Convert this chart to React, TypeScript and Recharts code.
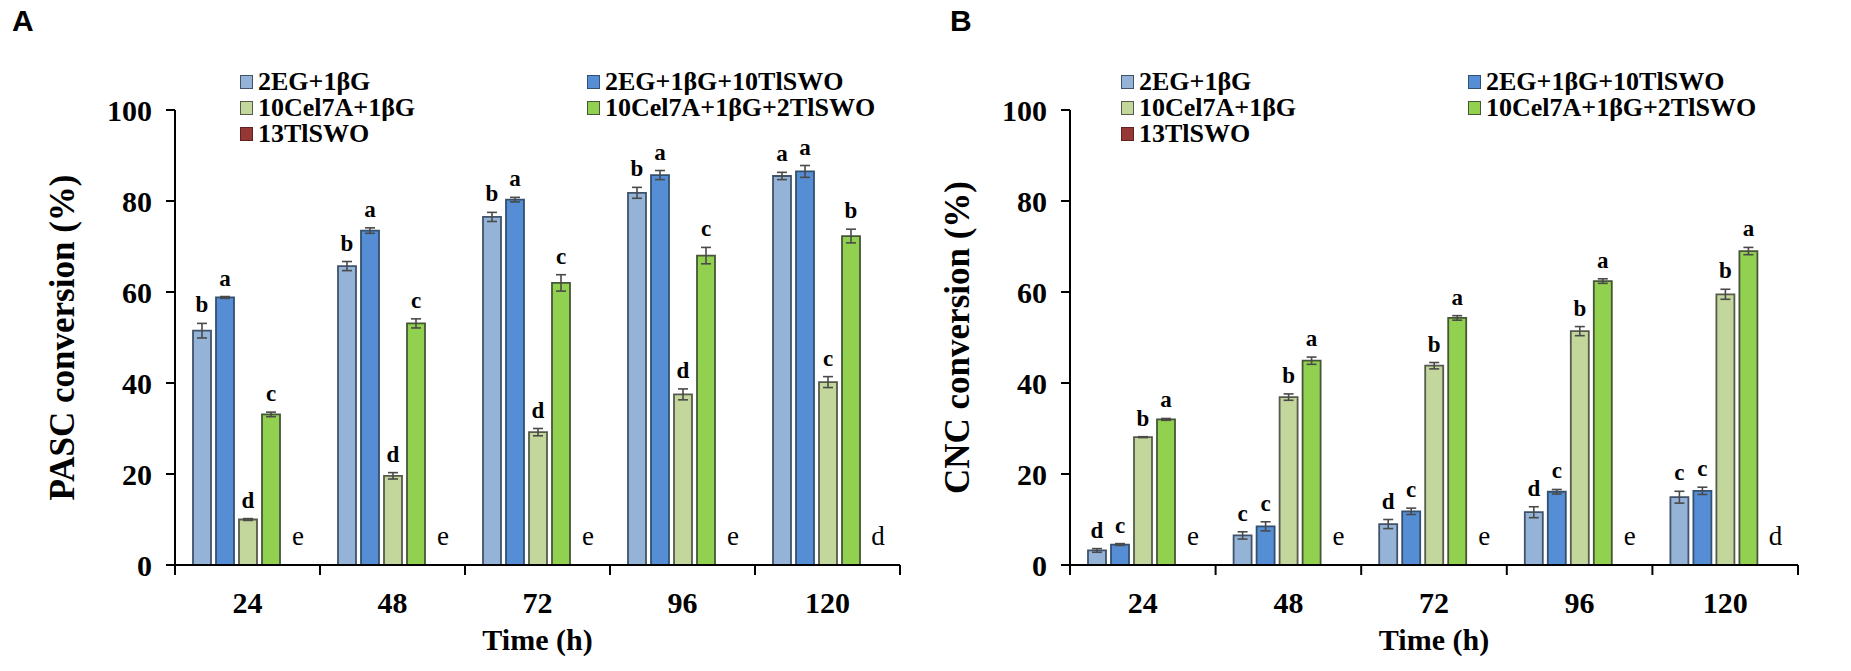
import { BarChart, Bar, XAxis, YAxis, ErrorBar, LabelList, Legend, Label } from 'recharts';

const SERIF = '"Liberation Serif", "Times New Roman", serif';

const times = ['24', '48', '72', '96', '120'];

const seriesNames = ['2EG+1βG', '2EG+1βG+10TlSWO', '10Cel7A+1βG', '10Cel7A+1βG+2TlSWO', '13TlSWO'];
const fills = ['#95B3D7', '#558ED5', '#C3D69B', '#92D050', '#953735'];
const strokes = ['#41536b', '#34506f', '#555a4c', '#46553a', '#5e2222'];

// panel A - PASC
const pascEG = [51.5, 65.7, 76.5, 81.8, 85.5];
const pascEGErr = [1.6, 1.0, 1.0, 1.2, 0.8];
const pascEGTl = [58.8, 73.5, 80.3, 85.7, 86.5];
const pascEGTlErr = [0.2, 0.6, 0.5, 1.0, 1.3];
const pascCel = [10.0, 19.6, 29.2, 37.5, 40.2];
const pascCelErr = [0.2, 0.7, 0.8, 1.2, 1.2];
const pascCelTl = [33.1, 53.1, 62.0, 68.0, 72.3];
const pascCelTlErr = [0.5, 1.0, 1.8, 1.8, 1.5];
const pascTl = [0, 0, 0, 0, 0];
const pascLetters = [
  ['b', 'b', 'b', 'b', 'a'],
  ['a', 'a', 'a', 'a', 'a'],
  ['d', 'd', 'd', 'd', 'c'],
  ['c', 'c', 'c', 'c', 'b'],
  ['e', 'e', 'e', 'e', 'd'],
];

// panel B - CNC
const cncEG = [3.2, 6.5, 9.0, 11.6, 14.9];
const cncEGErr = [0.4, 0.8, 1.0, 1.2, 1.3];
const cncEGTl = [4.5, 8.5, 11.8, 16.1, 16.3];
const cncEGTlErr = [0.2, 1.0, 0.7, 0.5, 0.8];
const cncCel = [28.1, 36.9, 43.8, 51.4, 59.5];
const cncCelErr = [0.1, 0.7, 0.7, 1.0, 1.1];
const cncCelTl = [32.0, 44.9, 54.3, 62.4, 69.0];
const cncCelTlErr = [0.2, 0.8, 0.5, 0.5, 0.8];
const cncTl = [0, 0, 0, 0, 0];
const cncLetters = [
  ['d', 'c', 'd', 'd', 'c'],
  ['c', 'c', 'c', 'c', 'c'],
  ['b', 'b', 'b', 'b', 'b'],
  ['a', 'a', 'a', 'a', 'a'],
  ['e', 'e', 'e', 'e', 'd'],
];

const yTicks = [0, 20, 40, 60, 80, 100];

const buildRows = (vals: number[][], errs: number[][]) =>
  times.map((t, i) => {
    const row: any = { time: t };
    vals.forEach((v, k) => {
      row['v' + k] = v[i];
      row['e' + k] = errs[k] ? errs[k][i] : 0;
    });
    return row;
  });

const pascData = buildRows(
  [pascEG, pascEGTl, pascCel, pascCelTl, pascTl],
  [pascEGErr, pascEGTlErr, pascCelErr, pascCelTlErr]
);
const cncData = buildRows(
  [cncEG, cncEGTl, cncCel, cncCelTl, cncTl],
  [cncEGErr, cncEGTlErr, cncCelErr, cncCelTlErr]
);

const CHART_W = 930;
const CHART_H = 671;
const Y_W = 175;
const M_RIGHT = 30;
const X_H = 106;
const BAR_GAP = 5;

function LegendBox() {
  return (
    <div
      style={{
        display: 'grid',
        gridTemplateColumns: '347px auto',
        fontFamily: SERIF,
        fontWeight: 'bold',
        fontSize: 26,
        lineHeight: '26px',
        color: '#000',
        whiteSpace: 'nowrap',
      }}
    >
      {seriesNames.map((name, k) => (
        <div key={name} style={{ display: 'flex', alignItems: 'center' }}>
          <span
            style={{
              display: 'inline-block',
              width: 11,
              height: 12,
              background: fills[k],
              border: `1.5px solid ${strokes[k]}`,
              marginRight: 5,
            }}
          />
          {name}
        </div>
      ))}
    </div>
  );
}

function Panel({
  data,
  letters,
  title,
  width,
  legendLeft,
}: {
  data: any[];
  letters: string[][];
  title: string;
  width: number;
  legendLeft: number;
}) {
  const plotW = width - Y_W - M_RIGHT;
  const band = plotW / times.length;

  const XTick = (props: any) => {
    const { x, y, payload, index } = props;
    return (
      <g>
        <line x1={x - band / 2} x2={x - band / 2} y1={y} y2={y + 10} stroke="#000" strokeWidth={2} />
        {index === times.length - 1 && (
          <line x1={x + band / 2} x2={x + band / 2} y1={y} y2={y + 10} stroke="#000" strokeWidth={2} />
        )}
        <text x={x} y={y + 48} textAnchor="middle" fontFamily={SERIF} fontWeight="bold" fontSize={30} fill="#000">
          {payload.value}
        </text>
      </g>
    );
  };

  // significance letter above each bar's error bar; the last (zero-height) series
  // gets its letter drawn next to the 4th bar, one slot to the right
  const letterLabel = (k: number) => (props: any) => {
    const { x, y, width: w, height: h, index, value } = props;
    const err = data[index]['e' + k] || 0;
    const cx = x + w / 2;
    const errPx = value ? (err / value) * h : 0;
    const top = (
      <text x={cx} y={y - errPx - 11} textAnchor="middle" fontFamily={SERIF} fontWeight="bold" fontSize={23} fill="#000">
        {letters[k][index]}
      </text>
    );
    if (k !== 3) return top;
    return (
      <g>
        {top}
        <text
          x={cx + w + BAR_GAP + 4}
          y={y + h - 20}
          textAnchor="middle"
          fontFamily={SERIF}
          fontSize={27}
          fill="#000"
        >
          {letters[4][index]}
        </text>
      </g>
    );
  };

  return (
    <BarChart
      width={width}
      height={CHART_H}
      data={data}
      margin={{ top: 110, right: M_RIGHT, bottom: 0, left: 0 }}
      barCategoryGap={18}
      barGap={BAR_GAP}
    >
      <XAxis
        dataKey="time"
        height={X_H}
        axisLine={{ stroke: '#000', strokeWidth: 2 }}
        tickLine={false}
        tickSize={0}
        tickMargin={0}
        tick={<XTick />}
        interval={0}
      >
        <Label
          value="Time (h)"
          position="insideBottom"
          offset={21}
          style={{ fontFamily: SERIF, fontWeight: 'bold', fontSize: 30, fill: '#000' }}
        />
      </XAxis>
      <YAxis
        width={Y_W}
        domain={[0, 100]}
        ticks={yTicks}
        interval={0}
        axisLine={{ stroke: '#000', strokeWidth: 2 }}
        tickLine={{ stroke: '#000', strokeWidth: 2 }}
        tickSize={9}
        tickMargin={14}
        tick={{ fontFamily: SERIF, fontWeight: 'bold', fontSize: 30, fill: '#000' }}
      >
        <Label
          value={title}
          angle={-90}
          position="insideLeft"
          offset={62}
          style={{ fontFamily: SERIF, fontWeight: 'bold', fontSize: 35, fill: '#000', textAnchor: 'middle' }}
        />
      </YAxis>
      <Legend
        layout="vertical"
        align="center"
        verticalAlign="middle"
        content={<LegendBox />}
        wrapperStyle={{ top: 69, left: legendLeft, width: 700, height: 80 }}
      />
      {seriesNames.map((name, k) => (
        <Bar
          key={name}
          dataKey={'v' + k}
          name={name}
          fill={fills[k]}
          stroke={strokes[k]}
          strokeWidth={1.8}
          isAnimationActive={false}
        >
          {k < 4 && <ErrorBar dataKey={'e' + k} width={5} stroke="#4a4a4a" strokeWidth={1.6} direction="y" />}
          {k < 4 && <LabelList dataKey={'v' + k} content={letterLabel(k)} />}
        </Bar>
      ))}
    </BarChart>
  );
}

export default function App() {
  return (
    <div style={{ position: 'absolute', left: 0, top: 0, width: 1851, height: 671, background: '#fff', overflow: 'hidden' }}>
      <div style={{ position: 'absolute', left: 0, top: 0 }}>
        <Panel data={pascData} letters={pascLetters} title="PASC conversion (%)" width={CHART_W} legendLeft={240} />
      </div>
      <div style={{ position: 'absolute', left: 895, top: 0 }}>
        <Panel data={cncData} letters={cncLetters} title="CNC conversion (%)" width={CHART_W + 3} legendLeft={226} />
      </div>
      <div style={{ position: 'absolute', left: 12, top: 6, fontFamily: '"Liberation Sans", Arial, sans-serif', fontWeight: 'bold', fontSize: 30, lineHeight: 1 }}>
        A
      </div>
      <div style={{ position: 'absolute', left: 950, top: 6, fontFamily: '"Liberation Sans", Arial, sans-serif', fontWeight: 'bold', fontSize: 30, lineHeight: 1 }}>
        B
      </div>
    </div>
  );
}
